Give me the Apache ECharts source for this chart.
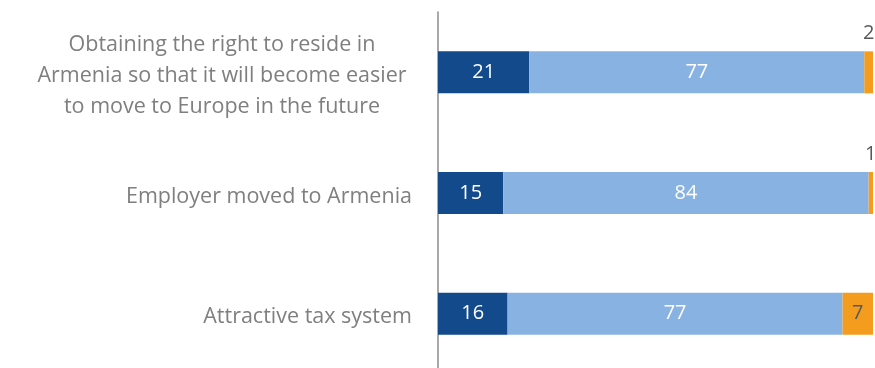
<!DOCTYPE html>
<html>
<head>
<meta charset="utf-8">
<script src="https://cdn.jsdelivr.net/npm/echarts@6/dist/echarts.min.js"></script>
<style>
  html, body { margin: 0; padding: 0; background: #fff; overflow: hidden; }
  /* canvas runs a few pixels past the window so the axis line reaches the bottom edge */
  #chart { width: 875px; height: 374px; }
</style>
</head>
<body>
<div id="chart"></div>
<script>
// Reasons for relocation, share of respondents (%)
const categories = [
  'Attractive tax system',
  'Employer moved to Armenia',
  'Obtaining the right to reside in\nArmenia so that it will become easier\nto move to Europe in the future'
];
const importantValues = [16, 15, 21];
const notImportantValues = [77, 84, 77];
const hardToSayValues = [7, 1, 2];

const FONT = '"Open Sans", "Noto Sans", sans-serif';

// Small segments get their label placed above the bar
const orangeData = hardToSayValues.map(v => ({
  value: v,
  label: v < 5
    ? { position: 'top', color: '#595959', distance: 8 }
    : { position: 'inside', color: '#595959' }
}));

const chart = echarts.init(document.getElementById('chart'));
chart.setOption({
  animation: false,
  grid: { left: 438, right: 2, top: 12, bottom: 0, containLabel: false },
  xAxis: {
    type: 'value', min: 0, max: 100,
    show: false
  },
  yAxis: {
    type: 'category',
    data: categories,
    axisLine: { show: true, lineStyle: { color: '#8c8c8c', width: 1.5 } },
    axisTick: { show: false },
    axisLabel: {
      margin: 26,
      fontFamily: FONT,
      fontSize: 21.5,
      color: '#7f7f7f',
      lineHeight: 31,
      padding: [7, 0, 0, 0],
      formatter: v => v.indexOf('\n') >= 0
        ? v.split('\n').map(l => '{c|' + l + '}').join('\n')
        : v,
      rich: {
        c: { width: 380, align: 'center', fontFamily: FONT, fontSize: 21.5, color: '#7f7f7f', lineHeight: 31 }
      }
    }
  },
  series: [
    {
      type: 'bar', stack: 's', barWidth: 42,
      data: importantValues,
      itemStyle: { color: '#124a8c' },
      label: { show: true, position: 'inside', color: '#fff', fontFamily: FONT, fontSize: 20 }
    },
    {
      type: 'bar', stack: 's', barWidth: 42,
      data: notImportantValues,
      itemStyle: { color: '#88b2e2' },
      label: { show: true, position: 'inside', color: '#fff', fontFamily: FONT, fontSize: 20 }
    },
    {
      type: 'bar', stack: 's', barWidth: 42,
      data: orangeData,
      itemStyle: { color: '#f49c1e' },
      label: { show: true, fontFamily: FONT, fontSize: 20 }
    }
  ]
});
</script>
</body>
</html>
